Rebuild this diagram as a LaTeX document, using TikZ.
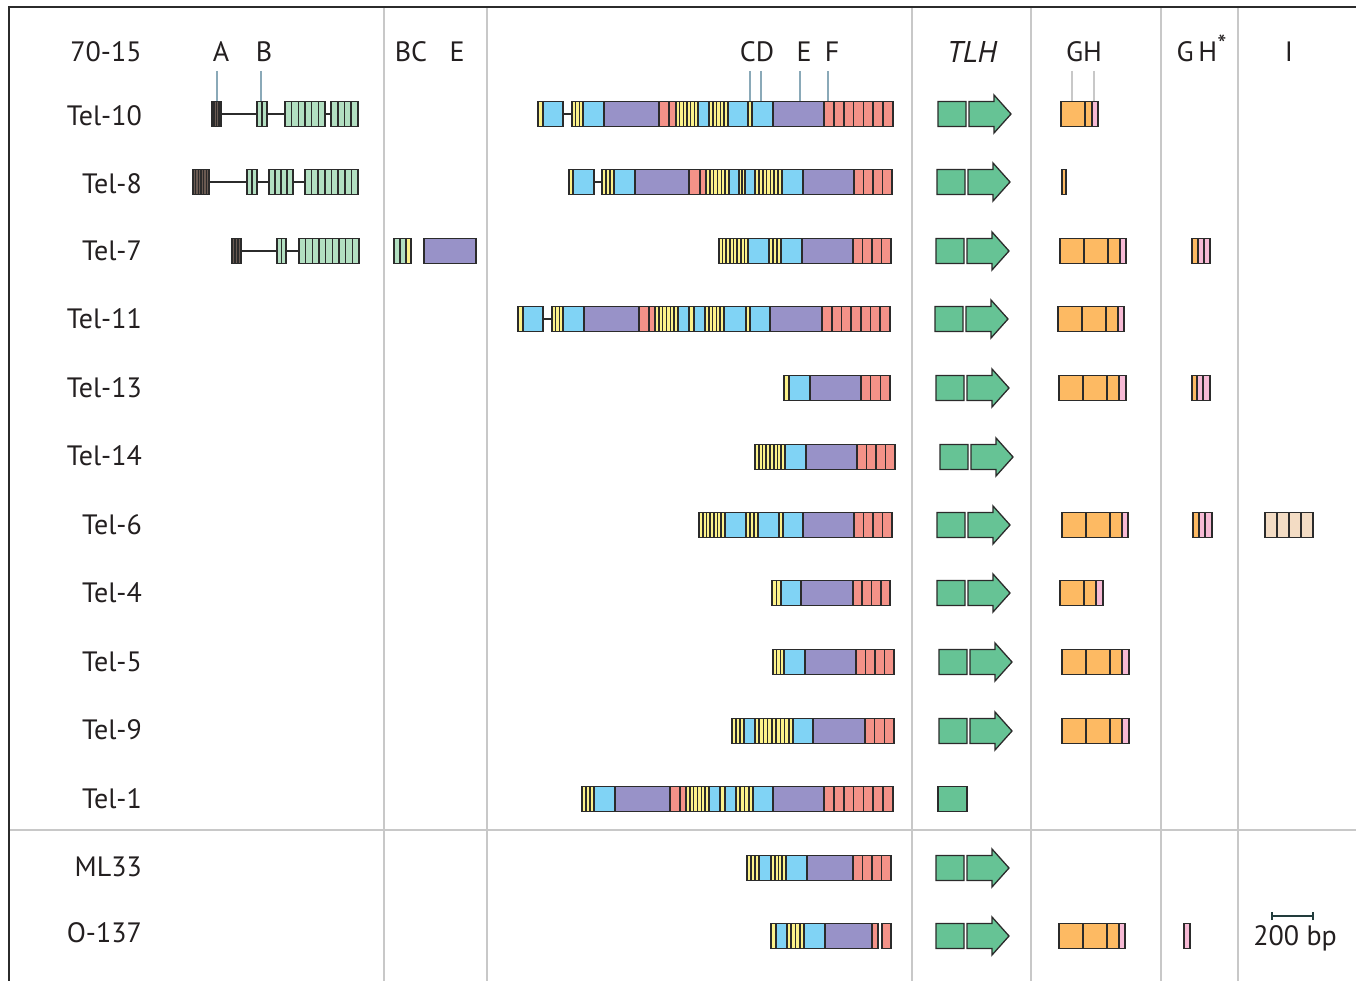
\documentclass[tikz,border=0pt]{standalone}
\usepackage{fontspec}
\setmainfont{PT Sans}
\definecolor{yl}{HTML}{FCF28A}
\definecolor{bl}{HTML}{80D3F5}
\definecolor{pu}{HTML}{9892C8}
\definecolor{sa}{HTML}{F49288}
\definecolor{tg}{HTML}{66C395}
\definecolor{lg}{HTML}{B2DFC1}
\definecolor{dk}{HTML}{6A5A52}
\definecolor{or}{HTML}{FDBA63}
\definecolor{pk}{HTML}{F7BAD5}
\definecolor{be}{HTML}{F3DCC4}
\definecolor{olk}{HTML}{2B2B2B}
\definecolor{tick}{HTML}{8AA9B8}
\definecolor{grl}{HTML}{C8C8C8}
\definecolor{txt}{HTML}{231F20}
\tikzset{
  blk/.style={draw=olk, line width=1.3pt},
  lnk/.style={draw=olk, line width=1.3pt},
  lab/.style={font=\fontsize{28}{30}\selectfont, inner sep=0pt, text=txt},
  sep/.style={draw=grl, line width=1.5pt},
  tk/.style={draw=tick, line width=1.2pt},
  tkg/.style={draw=grl, line width=1.2pt}
}
\newcommand\blocks[2]{%
  \foreach \xa/\xb/\cc/\nn in {#2}{%
    \filldraw[blk,fill=\cc] (\xa,#1-12.5) rectangle (\xb,#1+12.5);
    \ifnum\nn>1
      \pgfmathsetmacro\ww{(\xb-\xa)/\nn}
      \foreach \i in {2,...,\nn}{\draw[blk,line width=1.6pt] ({\xa+(\i-1)*\ww},#1-12.5) -- ++(0,25);}
    \fi
  }}
\newcommand\links[2]{%
  \foreach \xa/\xb in {#2}{\draw[lnk] (\xa,#1) -- (\xb,#1);}}
\newcommand\tlhbox[2]{%
  \begin{scope}[shift={(#1,#2)}]
    \filldraw[blk,fill=tg] (0,-12.5) -- (28,-12.5) -- (28,-3) .. controls (26.5,-1) and (29.5,1) .. (28,3) -- (28,12.5) -- (0,12.5) -- cycle;
  \end{scope}}
\newcommand\tlh[2]{%
  \tlhbox{#1}{#2}
  \begin{scope}[shift={(#1,#2)}]
    \filldraw[blk,fill=tg] (31,-12.5) -- (56,-12.5) -- (56,-19) -- (73,0) -- (56,19) -- (56,12.5) -- (31,12.5) -- (31,3) .. controls (29.5,1) and (32.5,-1) .. (31,-3) -- cycle;
  \end{scope}}
\begin{document}
\begin{tikzpicture}[x=1pt,y=-1pt]
\useasboundingbox (0,0) rectangle (1356,981);
% grid
\foreach \xx in {384,487,912,1031,1161,1238} {\draw[sep] (\xx,7) -- (\xx,981);}
\draw[sep] (9,830) -- (1356,830);
\draw[line width=1.5pt, draw=olk] (9,981) -- (9,7) -- (1356,7);
% headers
\node[lab] (h7015) at (106,52) {70-15};
\node[lab] (hA) at (221,52) {A};
\node[lab] (hB) at (264,52) {B};
\node[lab] (hBC) at (411,52) {BC};
\node[lab] (hE1) at (457,52) {E};
\node[lab] (hCD) at (757,52) {CD};
\node[lab] (hE2) at (804,52) {E};
\node[lab] (hF) at (832,52) {F};
\node[lab,font=\fontsize{30}{30}\selectfont\itshape] (hTLH) at (972,52) {TLH};
\node[lab] (hGH) at (1084,52) {GH};
\node[lab] (hGHs) at (1197,52) {G\,H};
\node[lab,font=\fontsize{26}{26}\selectfont] (hast) at (1222,44) {*};
\node[lab] (hI) at (1289,52) {I};
% ticks
\foreach \xx in {217,261,750,761,800,828} {\draw[tk] (\xx,71) -- (\xx,102);}
\foreach \xx in {1072,1094} {\draw[tkg] (\xx,71) -- (\xx,102);}
% row labels
\foreach \yy/\tt/\nm in {116/Tel-10/l1,184/Tel-8/l2,251/Tel-7/l3,319/Tel-11/l4,388/Tel-13/l5,456/Tel-14/l6,525/Tel-6/l7,593/Tel-4/l8,662/Tel-5/l9,730/Tel-9/l10,799/Tel-1/l11,867/ML33/l12,933/O-137/l13}
  {\node[lab,anchor=east] (\nm) at (142,\yy) {\tt};}
% ---- Tel-10
\links{114}{221/257,267/285,325/331,563/572}
\blocks{114}{212/221/dk/4,257/267/lg/2,285/325/lg/6,331/358/lg/4}
\blocks{114}{538/543/yl/1,543/563/bl/1,572/583/yl/3,583/604/bl/1,604/659/pu/1,659/669/sa/1,669/676/sa/1,676/698/yl/6,698/709/bl/1,709/728/yl/5,728/748/bl/1,748/752/yl/1,752/773/bl/1,773/824/pu/1,824/893/sa/7}
\tlh{938}{114}
\blocks{114}{1061/1085/or/1,1085/1092/or/1,1092/1098/pk/1}
% ---- Tel-8
\links{182}{209/247,257/269,293/305,594/602}
\blocks{182}{193/209/dk/6,247/257/lg/2,269/293/lg/4,305/358/lg/8}
\blocks{182}{569/573/yl/1,573/594/bl/1,602/614/yl/3,614/635/bl/1,635/689/pu/1,689/700/sa/1,700/706/sa/1,706/729/yl/6,729/739/bl/1,739/745/yl/2,745/755/bl/1,755/782/yl/7,782/803/bl/1,803/854/pu/1,854/892/sa/4}
\tlh{937}{182}
\blocks{182}{1062/1066/or/1}
% ---- Tel-7
\links{251}{241/277,286/299}
\blocks{251}{232/241/dk/3,277/286/lg/2,299/359/lg/9}
\blocks{251}{394/400/lg/1,400/406/lg/1,406/411/yl/1,424/476/pu/1}
\blocks{251}{719/748/yl/8,748/769/bl/1,769/781/yl/3,781/802/bl/1,802/853/pu/1,853/891/sa/4}
\tlh{936}{251}
\blocks{251}{1060/1084/or/1,1084/1108/or/1,1108/1120/or/1,1120/1126/pk/1,1192/1198/or/1,1198/1204/pk/1,1204/1210/pk/1}
% ---- Tel-11
\links{319}{543/552}
\blocks{319}{518/523/yl/1,523/543/bl/1,552/563/yl/3,563/584/bl/1,584/639/pu/1,639/649/sa/1,649/655/sa/1,655/678/yl/6,678/689/bl/1,689/694/yl/1,694/705/bl/1,705/724/yl/5,724/746/bl/1,746/750/yl/1,750/770/bl/1,770/822/pu/1,822/890/sa/7}
\tlh{935}{319}
\blocks{319}{1058/1082/or/1,1082/1106/or/1,1106/1118/or/1,1118/1124/pk/1}
% ---- Tel-13
\blocks{388}{784/789/yl/1,789/810/bl/1,810/861/pu/1,861/890/sa/3}
\tlh{936}{388}
\blocks{388}{1059/1083/or/1,1083/1107/or/1,1107/1119/or/1,1119/1126/pk/1,1192/1197/or/1,1197/1203/pk/1,1203/1210/pk/1}
% ---- Tel-14
\blocks{457}{755/785/yl/8,785/806/bl/1,806/857/pu/1,857/895/sa/4}
\tlh{940}{457}
% ---- Tel-6
\blocks{525}{699/725/yl/7,725/746/bl/1,746/758/yl/3,758/779/bl/1,779/783/yl/1,783/803/bl/1,803/854/pu/1,854/892/sa/4}
\tlh{937}{525}
\blocks{525}{1062/1086/or/1,1086/1110/or/1,1110/1122/or/1,1122/1128/pk/1,1193/1199/or/1,1199/1205/pk/1,1205/1212/pk/1,1265/1313/be/4}
% ---- Tel-4
\blocks{593}{772/781/yl/2,781/801/bl/1,801/853/pu/1,853/890/sa/4}
\tlh{937}{593}
\blocks{593}{1060/1084/or/1,1084/1096/or/1,1096/1103/pk/1}
% ---- Tel-5
\blocks{662}{773/784/yl/3,784/805/bl/1,805/856/pu/1,856/894/sa/4}
\tlh{939}{662}
\blocks{662}{1062/1086/or/1,1086/1110/or/1,1110/1122/or/1,1122/1129/pk/1}
% ---- Tel-9
\blocks{731}{732/744/yl/3,744/755/bl/1,755/793/yl/9,793/813/bl/1,813/865/pu/1,865/894/sa/3}
\tlh{939}{731}
\blocks{731}{1062/1086/or/1,1086/1110/or/1,1110/1122/or/1,1122/1129/pk/1}
% ---- Tel-1
\blocks{799}{582/594/yl/3,594/615/bl/1,615/670/pu/1,670/680/sa/1,680/686/sa/1,686/709/yl/6,709/720/bl/1,720/725/yl/1,725/736/bl/1,736/753/yl/4,753/773/bl/1,773/824/pu/1,824/893/sa/7}
\filldraw[blk,fill=tg] (938,786.5) rectangle (967,811.5);
% ---- ML33
\blocks{868}{747/759/yl/3,759/771/bl/1,771/786/yl/4,786/807/bl/1,807/853/pu/1,853/891/sa/4}
\tlh{936}{868}
% ---- O-137
\blocks{936}{771/776/yl/1,776/787/bl/1,787/804/yl/4,804/825/bl/1,825/872/pu/1,872/878/sa/1,882/891/sa/1}
\tlh{936}{936}
\blocks{936}{1059/1083/or/1,1083/1107/or/1,1107/1119/or/1,1119/1125/pk/1,1184/1190/pk/1}
% scale bar
\coordinate (sb1) at (1272,916);
\coordinate (sb2) at (1313,916);
\draw[draw=olk!80!teal, line width=1.3pt] (sb1) -- (sb2);
\draw[draw=olk!80!teal, line width=1.3pt] ([yshift=-4pt]sb1) -- ([yshift=4pt]sb1);
\draw[draw=olk!80!teal, line width=1.3pt] ([yshift=-4pt]sb2) -- ([yshift=4pt]sb2);
\node[lab] (sbl) at (1295,938) {200 bp};
\end{tikzpicture}
\end{document}
